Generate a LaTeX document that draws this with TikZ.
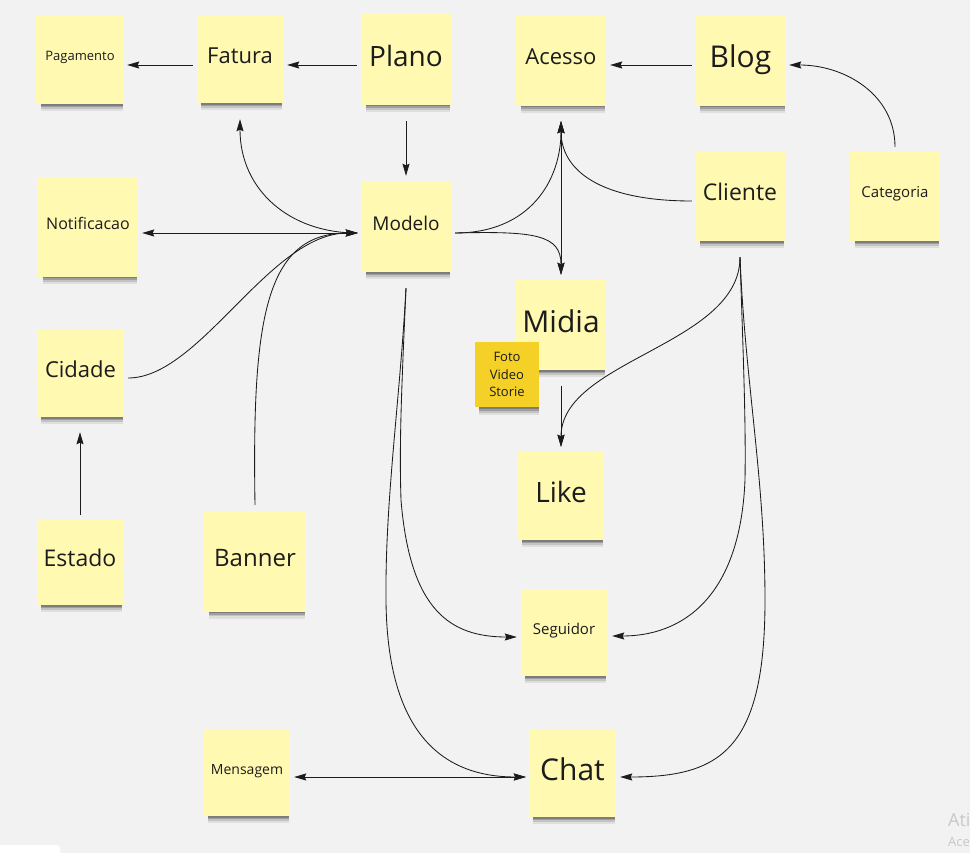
\documentclass[tikz,border=0pt]{standalone}
\usepackage{fontspec}
\setmainfont{Open Sans}
\usetikzlibrary{arrows.meta,shadows,calc}
\definecolor{bg}{HTML}{F2F2F2}
\definecolor{notey}{HTML}{FFF9B1}
\definecolor{notedark}{HTML}{F5D128}
\definecolor{ink}{HTML}{1C1C1C}
\definecolor{wmark}{HTML}{C8C8C8}
\tikzset{
  fs/.style={font=\fontsize{#1}{#1}\selectfont},
  notebase/.style={rectangle, fill=notey, inner sep=0pt, text=ink, align=center,
    minimum width=88pt, minimum height=88pt,
    general shadow={fill=black, opacity=0.08, shadow scale=0.94, shadow yshift=-10.5pt, shadow xshift=2pt},
    general shadow={fill=black, opacity=0.12, shadow scale=0.94, shadow yshift=-8pt, shadow xshift=2pt},
    general shadow={fill=black, opacity=0.18, shadow scale=0.94, shadow yshift=-6pt, shadow xshift=2pt},
    general shadow={fill=black, opacity=0.22, shadow scale=0.94, shadow yshift=-4.5pt, shadow xshift=2pt}},
  note/.style={notebase, execute at end node={\rule[-8pt]{0pt}{8pt}}},
  darknote/.style={notebase, fill=notedark},
  tip/.tip={Stealth[length=12pt,width=7pt,inset=1.5pt]},
  conn/.style={line width=0.85pt, draw=ink},
  arr/.style={conn, -tip},
  darr/.style={conn, tip-tip}
}
\begin{document}
\begin{tikzpicture}[x=1pt,y=-1pt]
\fill[bg] (0,0) rectangle (970,853);
\useasboundingbox (0,0) rectangle (970,853);
\fill[white, rounded corners=3pt] (-5,845) rectangle (60,860);

% notes
\node[note, fs=13] (pag) at (80,60) {Pagamento};
\node[note, fs=22, minimum width=86pt, minimum height=87pt] (fat) at (240,59.5) {Fatura};
\node[note, fs=28, minimum width=90pt, minimum height=91pt] (pla) at (406,59.5) {Plano};
\node[note, fs=22, minimum width=90pt, minimum height=91pt] (ace) at (561,60.5) {Acesso};
\node[note, fs=30, minimum width=91pt, minimum height=91pt] (blo) at (740.5,60.5) {Blog};
\node[note, fs=16, minimum width=100pt, minimum height=100pt] (not) at (88,227) {Notificacao};
\node[note, fs=19, minimum width=90pt, minimum height=90pt] (mod) at (406,227) {Modelo};
\node[note, fs=23, minimum width=90pt, minimum height=90pt] (cli) at (740,196) {Cliente};
\node[note, fs=15, minimum width=90pt, minimum height=90pt] (cat) at (895,196) {Categoria};
\node[note, fs=30, minimum width=90pt, minimum height=90pt] (mid) at (561,325) {Midia};
\node[darknote, font=\fontsize{13}{17.5}\selectfont, minimum width=64pt, minimum height=65pt] (fot) at (507,374.5) {Foto\\Video\\Storie};
\node[note, fs=22, minimum width=87pt, minimum height=87pt] (cid) at (80.5,373.5) {Cidade};
\node[note, fs=23, minimum width=86pt, minimum height=86pt] (est) at (80,562) {Estado};
\node[note, fs=24, minimum width=102pt, minimum height=101pt] (ban) at (255,561.5) {Banner};
\node[note, fs=28, minimum width=86pt, minimum height=88pt] (lik) at (561,496) {Like};
\node[note, fs=15, minimum width=86pt, minimum height=86pt] (seg) at (564,633) {Seguidor};
\node[note, fs=14, minimum width=86pt, minimum height=86pt] (men) at (247,773) {Mensagem};
\node[note, fs=30, minimum width=87pt, minimum height=87pt] (cha) at (572.5,773.5) {Chat};

% connectors
\draw[arr] ($(fat.west)+(-4,5.5)$) -- ($(pag.east)+(3,5)$);
\draw[arr] ($(pla.west)+(-4,5.5)$) -- ($(fat.east)+(4,5.5)$);
\draw[arr] ($(blo.west)+(-3,4.5)$) -- ($(ace.east)+(4,4.5)$);
\draw[arr] ($(cat.north)+(0,-4)$) .. controls +(0,-52) and +(56,0) .. ($(blo.east)+(3,4.5)$);
\draw[arr] ($(pla.south)+(0,16)$) -- ($(mod.north)+(0,-6)$);
\draw[arr] ($(mod.west)+(-4,6)$) .. controls +(-67,0) and +(0,71) .. ($(fat.south)+(0,16)$);
\draw[darr] ($(not.east)+(4,6)$) -- ($(mod.west)+(-3,6)$);
\draw[arr] ($(cid.east)+(4,4.5)$) .. controls +(72,0) and +(-88,0) .. ($(mod.west)+(-3,6)$);
\draw[arr] ($(ban.north)+(0,-6)$) .. controls +(-3,-185) and +(-93,0) .. ($(mod.west)+(-3,6)$);
\draw[arr] ($(est.north)+(0,-4)$) -- ($(cid.south)+(-0.5,15)$);
\draw[arr] ($(mod.east)+(4,6)$) .. controls +(75,0) and +(0,59) .. ($(ace.south)+(0,15)$);
\draw[arr] ($(mod.east)+(4,6)$) .. controls +(80,-2) and +(0,-40) .. ($(mid.north)+(0,-5)$);
\draw[darr] ($(ace.south)+(0,15)$) -- ($(mid.north)+(0,-5)$);
\draw[arr] ($(cli.west)+(-3,5)$) .. controls +(-92,0) and +(0,49) .. ($(ace.south)+(0,15)$);
\draw[arr] ($(mid.south)+(0,16)$) -- ($(lik.north)+(0,-5)$);
\draw[arr] ($(cli.south)+(0,16)$) .. controls +(0,88) and +(0,-87) .. ($(lik.north)+(0,-5)$);
\draw[arr] ($(cli.south)+(0,16)$) .. controls +(3,93) and +(1,-60) .. (745,480)
   .. controls +(-5,120) and +(68,0) .. ($(seg.east)+(5,3)$);
\draw[arr] ($(cli.south)+(0,16)$) .. controls +(5,123) and +(0,-120) .. (765,600)
   .. controls +(0,150) and +(100,0) .. ($(cha.east)+(4,3.5)$);
\draw[arr] ($(mod.south)+(0,16)$) .. controls +(-4,92) and +(-2,-60) .. (401,500)
   .. controls +(9,110) and +(-67,0) .. ($(seg.west)+(-4,4)$);
\draw[arr] ($(mod.south)+(0,16)$) .. controls +(-6,112) and +(-1,-100) .. (386,600)
   .. controls +(1,130) and +(-86,0) .. ($(cha.west)+(-3,3.5)$);
\draw[darr] ($(men.east)+(4,4)$) -- ($(cha.west)+(-3,3.5)$);

% watermark text (cut by the edge)
\node[anchor=base west, inner sep=0pt, text=wmark, fs=18] (wm1) at (948,826) {Ati};
\node[anchor=base west, inner sep=0pt, text=wmark, fs=13] (wm2) at (948,846) {Ace};
\end{tikzpicture}
\end{document}
